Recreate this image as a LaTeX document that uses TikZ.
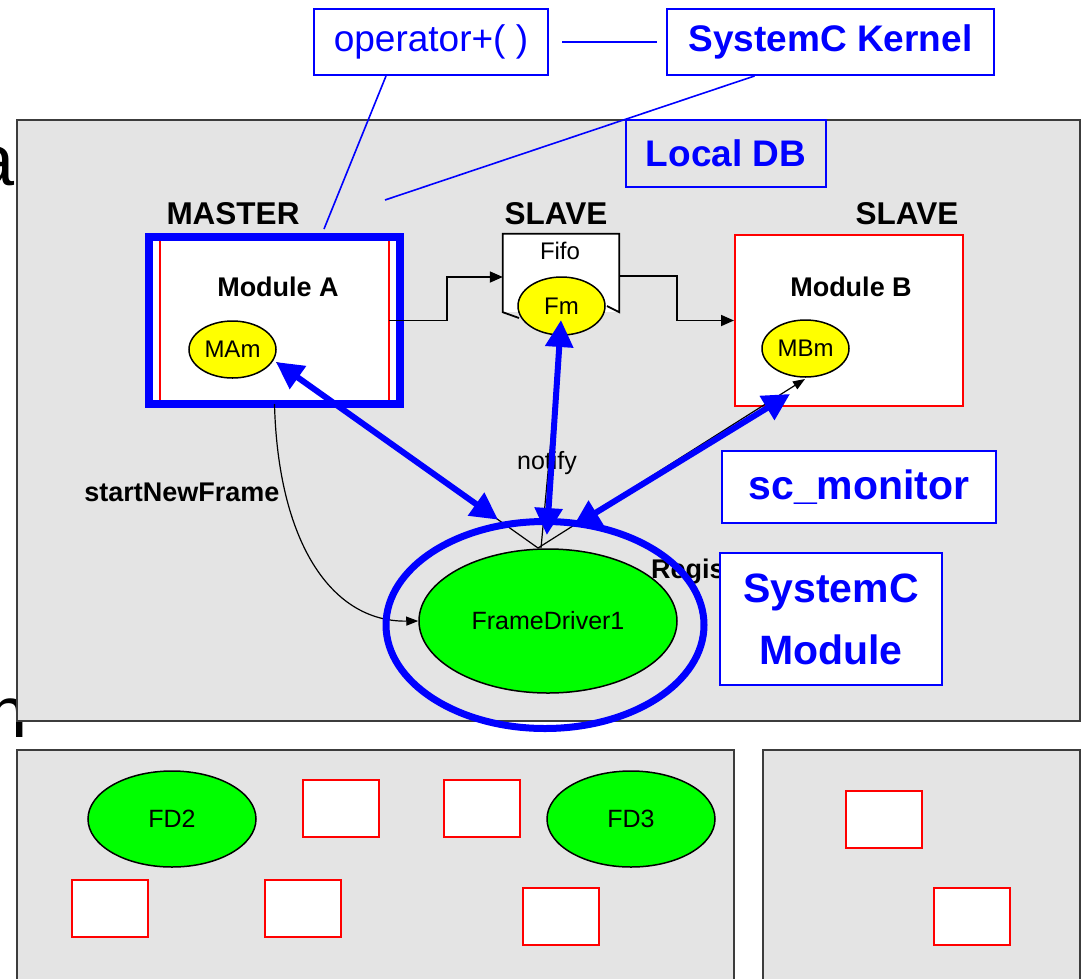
\documentclass[tikz,border=0pt]{standalone}
\usepackage{fontspec}
\setmainfont{Liberation Sans}
\usetikzlibrary{arrows.meta,shapes.geometric,calc}
\definecolor{pfill}{RGB}{228,228,228}
\definecolor{pline}{RGB}{60,60,60}
\definecolor{bblue}{RGB}{0,0,255}
\definecolor{fgreen}{RGB}{0,255,0}
\definecolor{fyel}{RGB}{255,255,0}
\definecolor{mred}{RGB}{255,0,0}
\newcommand\fsz[1]{\fontsize{#1}{#1}\selectfont}
\begin{document}
\begin{tikzpicture}[x=1pt,y=-1pt,
  panel/.style={draw=pline,fill=pfill,line width=2pt},
  callout/.style={draw=bblue,line width=2pt,fill=white,text=bblue,inner sep=0pt},
  cline/.style={draw=bblue,line width=1.6pt},
  hdr/.style={inner sep=0pt,font=\fsz{31.5}\bfseries},
  ell/.style={ellipse,draw=black,line width=1.5pt,inner sep=0pt},
  blk/.style={draw=black,line width=1.8pt,-{Triangle[length=13pt,width=11pt]}},
  thinl/.style={draw=black,line width=1.2pt,-{Triangle[length=12pt,width=9pt]}},
  barrow/.style={draw=bblue,line width=6pt,{Triangle[length=27pt,width=27pt]}-{Triangle[length=27pt,width=27pt]}},
  rbox/.style={draw=mred,line width=2pt,fill=white,inner sep=0pt,minimum width=76pt,minimum height=57pt},
  small/.style={inner sep=0pt,font=\fsz{25}},
  smallb/.style={inner sep=0pt,font=\fsz{27}\bfseries}
]
\useasboundingbox (0,0) rectangle (1082,978);

% fragments of slide text behind the panels
\node[anchor=base east,inner sep=0pt,font=\fsz{72}] (leta) at (15,185) {a};
\node[anchor=base east,inner sep=0pt,font=\fsz{72}] (leth) at (28,737) {h};

% panels
\draw[panel] (17,120) rectangle (1080,721);
\draw[panel] (17,750) rectangle (734,1000);
\draw[panel] (763,750) rectangle (1080,1000);

% top callouts
\node[callout,font=\fsz{37},minimum width=234pt,minimum height=66pt] (op) at (431,42) {operator+( )};
\node[callout,font=\fsz{37}\bfseries,minimum width=327pt,minimum height=66pt] (kern) at (830.5,42) {SystemC Kernel};
\node[callout,fill=pfill,font=\fsz{37}\bfseries,minimum width=200pt,minimum height=67pt] (ldb) at (726,153.5) {Local DB};
\coordinate (kend) at (385,200);
\draw[cline] ([xshift=13pt]op.east) -- ([xshift=-9pt]kern.west);
\draw[cline] ([xshift=-76pt]kern.south) -- (kend);

% headers
\node[hdr] (mst) at (233,214) {MASTER};
\node[hdr] (sl1) at (556,214) {SLAVE};
\node[hdr] (sl2) at (907,214) {SLAVE};

% Module A
\node[draw=bblue,line width=8pt,fill=white,minimum width=251pt,minimum height=167pt,inner sep=0pt] (mabox) at (274.5,320.5) {};
\draw[mred,line width=1.5pt] (160,241) -- (160,400);
\draw[mred,line width=1.5pt] (389,241) -- (389,400);
\node[inner sep=0pt,minimum width=229pt,minimum height=167pt] (moda) at (274.5,320.5) {};
\node[smallb] (modatxt) at (278,287) {Module A};
\draw[cline] ([xshift=-45pt]op.south) -- ([xshift=49.5pt,yshift=4pt]mabox.north);

% Fifo
\node[fill=white,inner sep=0pt,minimum width=116pt,minimum height=78pt] (fifo) at (561,273) {};
\draw[black,line width=1.8pt] (519,318) -- (fifo.south west) -- (fifo.north west) -- (fifo.north east) -- (fifo.south east) -- (607,306);
\node[small,font=\fsz{24}] (fifotxt) at (560,251) {Fifo};

% Module B
\node[draw=mred,line width=2pt,fill=white,minimum width=228pt,minimum height=171pt,inner sep=0pt] (modb) at (849,320.5) {};
\node[smallb] (modbtxt) at (851,287) {Module B};

% ports
\node[ell,fill=fyel,minimum width=87pt,minimum height=57pt,font=\fsz{24}] (mam) at (232.5,349.5) {MAm};
\node[ell,fill=fyel,minimum width=87pt,minimum height=58pt,font=\fsz{24}] (fm) at (561.5,306) {Fm};
\node[ell,fill=fyel,minimum width=87pt,minimum height=57pt,font=\fsz{24}] (mbm) at (805.5,348.5) {MBm};

% FrameDriver
\node[ell,fill=fgreen,minimum width=258pt,minimum height=144pt,font=\fsz{25}] (fd) at (548,621) {FrameDriver1};

% channel connectors
\draw[blk] (moda.east) -- ++(58,0) |- ([yshift=-4pt]fifo.west);
\draw[blk] ([yshift=-3pt]fifo.east) -- ++(58,0) |- (modb.west);

% labels
\node[small] (notify) at (547,463) {notify};
\node[smallb] (snf) at (182,492) {startNewFrame};
\node[smallb,anchor=west] (regis) at (651,572) {Regis};

% thin black links
\coordinate (fdtop) at (538,548);
\coordinate (mamport) at (276,362);
\coordinate (fmport) at (561,320);
\coordinate (mbport) at (805,379);
\coordinate (mbport2) at (790,394);
\draw[thinl] (fdtop) -- (mamport);
\draw[thinl] ([xshift=3pt]fdtop) -- ([yshift=10pt]fm.south);
\draw[thinl] (fdtop) -- (mbport);
\draw[thinl] (moda.south) .. controls (278,540) and (330,622) .. (fd.west);

% blue monitor arrows
\draw[barrow,shorten >=49pt] (mamport) -- (fdtop);
\draw[barrow,shorten >=13pt] (fmport) -- ([xshift=8pt]fdtop);
\draw[barrow,shorten >=41pt] (mbport2) -- (fdtop);

% blue ring
\node[ellipse,draw=bblue,line width=7pt,minimum width=318pt,minimum height=207pt,inner sep=0pt] (fdring) at (545,625) {};

% lower callouts
\node[callout,font=\fsz{41}\bfseries,minimum width=274pt,minimum height=72pt] (scm) at (859,487) {sc\_monitor};
\node[callout,font=\fontsize{41}{62}\selectfont\bfseries,align=center,minimum width=222pt,minimum height=132pt] (scmod) at (831,619) {SystemC\\Module};

% bottom panels content
\node[ell,fill=fgreen,minimum width=168pt,minimum height=96pt,font=\fsz{25}] (fd2) at (172,819) {FD2};
\node[ell,fill=fgreen,minimum width=168pt,minimum height=96pt,font=\fsz{25}] (fd3) at (631,819) {FD3};
\node[rbox] (r1) at (341,808) {};
\node[rbox] (r2) at (482,808) {};
\node[rbox] (r3) at (110,908.5) {};
\node[rbox] (r4) at (302.5,908.5) {};
\node[rbox] (r5) at (561,916.5) {};
\node[rbox] (r6) at (883.5,819) {};
\node[rbox] (r7) at (972,916.5) {};
\end{tikzpicture}
\end{document}
